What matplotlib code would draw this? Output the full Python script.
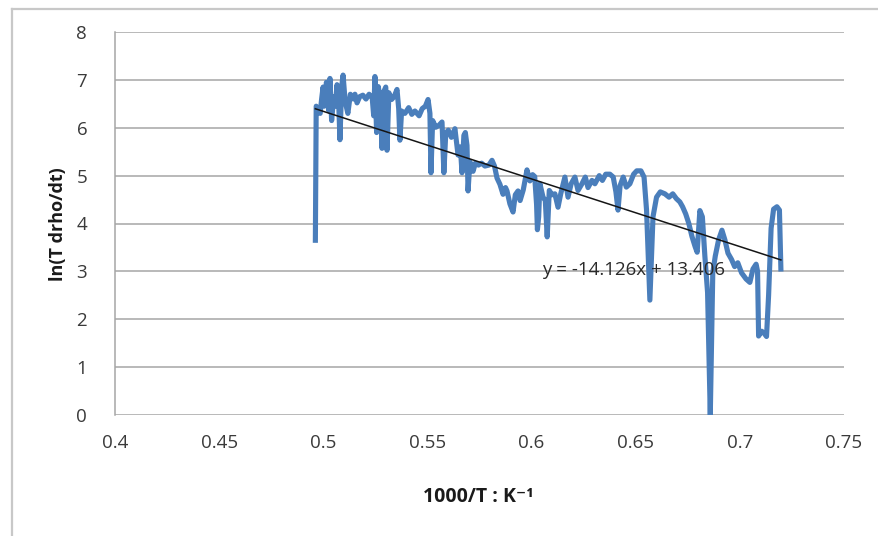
import numpy as np
import matplotlib.pyplot as plt
from matplotlib.lines import Line2D

# Curva de Arrhenius: ln(T drho/dt) em funcao de 1000/T

inv_T = [
    0.4962, 0.4966, 0.4985, 0.4992, 0.4999, 0.5005, 0.5010, 0.5015, 0.5020, 0.5027,
    0.5032, 0.5040, 0.5050, 0.5058, 0.5066, 0.5075, 0.5080, 0.5088, 0.5095, 0.5105,
    0.5118, 0.5130, 0.5145, 0.5152, 0.5162, 0.5175, 0.5190, 0.5205, 0.5220, 0.5235,
    0.5242, 0.5248, 0.5256, 0.5264, 0.5275, 0.5282, 0.5290, 0.5300, 0.5306, 0.5315,
    0.5328, 0.5340, 0.5354, 0.5362, 0.5368, 0.5376, 0.5392, 0.5410, 0.5425, 0.5440,
    0.5460, 0.5475, 0.5490, 0.5503, 0.5512, 0.5517, 0.5525, 0.5540, 0.5555, 0.5570,
    0.5579, 0.5588, 0.5600, 0.5615, 0.5632, 0.5647, 0.5658, 0.5666, 0.5675, 0.5682,
    0.5690, 0.5695, 0.5704, 0.5719, 0.5730, 0.5745, 0.5760, 0.5776, 0.5795, 0.5810,
    0.5822, 0.5834, 0.5848, 0.5863, 0.5875, 0.5882, 0.5896, 0.5911, 0.5922, 0.5935,
    0.5945, 0.5960, 0.5978, 0.5992, 0.6005, 0.6015, 0.6024, 0.6028, 0.6034, 0.6040,
    0.6055, 0.6066, 0.6075, 0.6085, 0.6098, 0.6112, 0.6127, 0.6140, 0.6160, 0.6175,
    0.6190, 0.6208, 0.6223, 0.6242, 0.6258, 0.6271, 0.6290, 0.6304, 0.6325, 0.6340,
    0.6356, 0.6376, 0.6392, 0.6405, 0.6415, 0.6425, 0.6440, 0.6455, 0.6472, 0.6490,
    0.6505, 0.6525, 0.6540, 0.6552, 0.6568, 0.6583, 0.6600, 0.6618, 0.6640, 0.6660,
    0.6678, 0.6695, 0.6712, 0.6725, 0.6740, 0.6755, 0.6770, 0.6785, 0.6795, 0.6808,
    0.6820, 0.6832, 0.6845, 0.6858, 0.6870, 0.6882, 0.6898, 0.6914, 0.6928, 0.6943,
    0.6960, 0.6975, 0.6990, 0.7008, 0.7030, 0.7048, 0.7063, 0.7078, 0.7085, 0.7090,
    0.7105, 0.7118, 0.7128, 0.7138, 0.7150, 0.7162, 0.7178, 0.7190, 0.7197,
]

ln_T_drho = [
    3.65, 6.45, 6.30, 6.60, 6.85, 6.45, 6.55, 6.95, 6.70, 6.35,
    7.03, 6.15, 6.65, 6.45, 6.90, 6.40, 5.75, 6.85, 7.10, 6.55,
    6.30, 6.70, 6.60, 6.70, 6.52, 6.65, 6.68, 6.60, 6.70, 6.62,
    6.25, 7.07, 5.90, 6.86, 6.55, 5.57, 6.75, 6.85, 5.53, 6.73,
    6.59, 6.65, 6.80, 6.40, 5.74, 6.35, 6.30, 6.42, 6.28, 6.35,
    6.25, 6.40, 6.45, 6.59, 6.30, 5.06, 6.15, 6.01, 6.05, 6.12,
    5.06, 5.88, 5.95, 5.80, 5.98, 5.43, 5.60, 5.06, 5.84, 5.90,
    5.63, 4.68, 5.29, 5.09, 5.26, 5.22, 5.26, 5.20, 5.22, 5.32,
    5.20, 4.95, 4.82, 4.61, 4.75, 4.68, 4.41, 4.24, 4.60, 4.68,
    4.48, 4.70, 5.12, 4.89, 5.02, 4.98, 4.40, 3.87, 4.14, 4.83,
    4.55, 4.48, 3.72, 4.69, 4.60, 4.62, 4.34, 4.62, 4.97, 4.55,
    4.83, 4.97, 4.69, 4.83, 4.97, 4.75, 4.90, 4.83, 5.00, 4.90,
    5.03, 5.03, 4.97, 4.66, 4.28, 4.79, 4.97, 4.76, 4.83, 5.03,
    5.10, 5.10, 4.97, 4.28, 2.40, 4.14, 4.55, 4.66, 4.62, 4.55,
    4.62, 4.52, 4.45, 4.35, 4.20, 4.00, 3.73, 3.52, 3.40, 4.27,
    4.14, 3.32, 2.56, 0.00, 2.97, 3.32, 3.66, 3.86, 3.66, 3.38,
    3.25, 3.10, 3.18, 2.97, 2.84, 2.77, 3.05, 3.15, 3.00, 1.65,
    1.75, 1.70, 1.64, 2.50, 3.90, 4.30, 4.35, 4.28, 3.05,
]

# coeficientes da reta de tendencia (ajuste linear)
slope = -14.126
intercept = 13.406

x_ticks = [0.4, 0.45, 0.5, 0.55, 0.6, 0.65, 0.7, 0.75]
y_ticks = [0, 1, 2, 3, 4, 5, 6, 7, 8]

FONT = ['Open Sans', 'DejaVu Sans']
GRID = '#a6a6a6'
TXT = '#3a3a3a'


def main():
    plt.rcParams['font.family'] = FONT

    fig = plt.figure(figsize=(8.79, 5.36), dpi=100)
    ax = fig.add_axes([115 / 879, 1 - 415 / 536, 729 / 879, 383 / 536])

    # curva medida
    ax.plot(inv_T, ln_T_drho, color='#4a7ebb', linewidth=3.7,
            solid_joinstyle='round', zorder=3)

    # reta de tendencia
    xt = np.array([inv_T[0], inv_T[-1]])
    ax.plot(xt, slope * xt + intercept, color='#151515', linewidth=1.1, zorder=4)
    ax.text(0.649, 3.02, 'y = -14.126x + 13.406', ha='center', va='center',
            fontsize=13.5, color='#2a2a2a', zorder=5)

    ax.set_xlim(0.4, 0.75)
    ax.set_ylim(0, 8)
    ax.set_xticks(x_ticks)
    ax.set_xticklabels([f'{v:g}' for v in x_ticks])
    ax.set_yticks(y_ticks)
    ax.tick_params(length=0, labelsize=13.5, labelcolor=TXT)
    ax.tick_params(axis='x', pad=14)
    ax.tick_params(axis='y', pad=20)
    ax.grid(axis='y', color=GRID, linewidth=1.1)
    ax.set_axisbelow(True)
    for s in ['top', 'right', 'bottom']:
        ax.spines[s].set_visible(False)
    ax.spines['left'].set_color(GRID)
    ax.spines['left'].set_linewidth(1.1)

    fig.text(58 / 879, 1 - 224 / 536, 'ln(T drho/dt)', rotation=90,
             ha='center', va='center', fontsize=13, fontweight='bold', color='#1a1a1a')
    fig.text(478 / 879, 1 - 497 / 536, '1000/T : K⁻¹', ha='center', va='center',
             fontsize=14, fontweight='bold', color='#1a1a1a')

    # moldura da area do grafico
    fig.add_artist(Line2D([12 / 879, 12 / 879], [0, 1 - 9 / 536],
                          transform=fig.transFigure, color='#c8c8c8', linewidth=1.6))
    fig.add_artist(Line2D([12 / 879, 1], [1 - 9 / 536, 1 - 9 / 536],
                          transform=fig.transFigure, color='#c8c8c8', linewidth=1.6))

    fig.savefig('out.png', dpi=100)


if __name__ == '__main__':
    main()
